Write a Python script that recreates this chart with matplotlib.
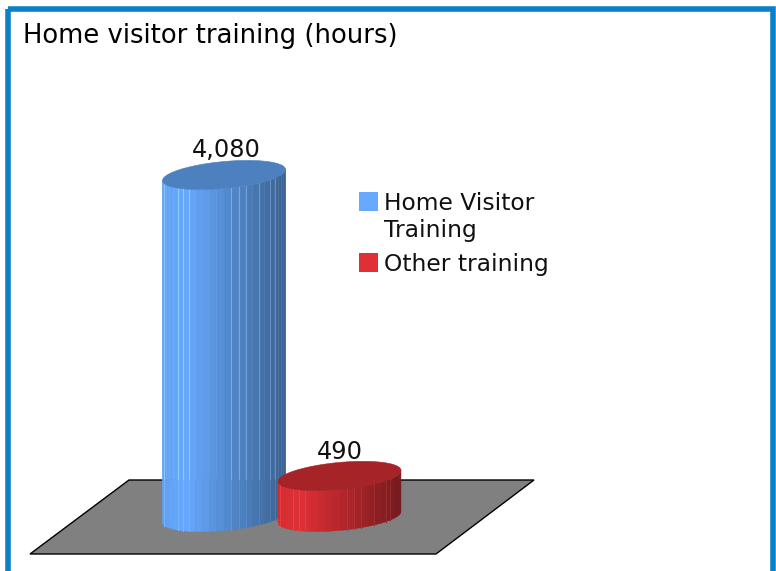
import matplotlib
matplotlib.use('Agg')
import matplotlib.pyplot as plt
import matplotlib.colors as mcolors
from matplotlib.patches import Polygon, Rectangle
import numpy as np

title = 'Home visitor training (hours)'
categories = ['Home Visitor\nTraining', 'Other training']
values = [4080, 490]
value_labels = ['4,080', '490']
side_light = ['#66a9ff', '#e02f35']
side_dark = ['#39618f', '#741a1d']
top_colors = ['#4d80bf', '#a62327']
border_color = '#0a80c8'
floor_color = '#808080'

# everything is placed in pixels of the picture
W, H = 776, 571
fig = plt.figure(figsize=(W / 100, H / 100), dpi=100)
ax = fig.add_axes([0, 0, 1, 1])
ax.set_xlim(0, W)
ax.set_ylim(H, 0)
ax.axis('off')

base_y = 517       # centre of the bottom ellipses
floor_back = 480
px_per_unit = 342 / 4080
centres = [224, 339.5]
label_dx = [2, 0]
label_dy = [18, 17]
rx = 61.5
ry = 13.5
tilt = 0.09
n_strips = 26
lit_edges = [2, 6, 7, 8, 14, 15, 16, 18, 20, 21]


def ellipse_y(cy, t):
    return cy + ry * np.sin(t) - tilt * rx * np.cos(t)


# grey floor
ax.add_patch(Polygon([(129, floor_back), (534, floor_back), (436, 554), (30, 554)],
                     closed=True, fc=floor_color, ec='black', lw=1, zorder=1))

for i in range(len(values)):
    cx = centres[i]
    top_y = base_y - values[i] * px_per_unit
    c1 = np.array(mcolors.to_rgb(side_light[i]))
    c2 = np.array(mcolors.to_rgb(side_dark[i]))
    z = 2 + i

    angles = np.linspace(np.pi, 0, n_strips + 1)
    for k in range(n_strips):
        t = np.linspace(angles[k], angles[k + 1], 6)
        xs = cx + rx * np.cos(t)
        y_bot = ellipse_y(base_y, t)
        y_top = ellipse_y(top_y, t)
        # colour follows the position across the cylinder
        pos = (xs.mean() - (cx - rx)) / (2 * rx)
        if pos < 0.18:
            col = c1 * (0.95 + 0.05 * pos / 0.18)
        else:
            col = c1 + (c2 - c1) * (pos - 0.18) / 0.82
        pts = list(zip(xs, y_top)) + list(zip(xs[::-1], y_bot[::-1]))
        ax.add_patch(Polygon(pts, closed=True, fc=col, ec=col, lw=0.3, zorder=z))
        if k in lit_edges:
            # the pale facet lines fade where they pass the floor
            if y_top[0] < floor_back:
                ax.plot([xs[0], xs[0]], [y_top[0], floor_back],
                        color=np.minimum(col + 0.15, 1), lw=0.8, zorder=z)
            ax.plot([xs[0], xs[0]], [max(y_top[0], floor_back), y_bot[0]],
                    color=np.minimum(col + 0.06, 1), lw=0.8, zorder=z)

    t = np.linspace(0, 2 * np.pi, 120)
    ax.add_patch(Polygon(list(zip(cx + rx * np.cos(t), ellipse_y(top_y, t))), closed=True,
                         fc=top_colors[i], ec=top_colors[i], lw=0.4, zorder=z))

    ax.text(cx + label_dx[i], top_y - label_dy[i], value_labels[i], fontsize=17.3,
            color='#111111', ha='center', va='baseline', zorder=6)

ax.text(23, 43, title, fontsize=18.6, color='black', ha='left', va='baseline')

# legend swatches and labels
legend_swatch_y = [192, 253]
legend_text_y = [210, 271]
for i in range(len(categories)):
    ax.add_patch(Rectangle((359, legend_swatch_y[i]), 19, 19, fc=side_light[i], ec='none', zorder=6))
    ax.text(384, legend_text_y[i], categories[i].split('\n')[0], fontsize=16.8,
            color='#111111', ha='left', va='baseline')
    if '\n' in categories[i]:
        ax.text(384, legend_text_y[i] + 27, categories[i].split('\n')[1], fontsize=16.8,
                color='#111111', ha='left', va='baseline')

# blue frame, runs off the bottom of the picture
ax.add_patch(Rectangle((8, 8.5), W - 11, H, fc='none', ec=border_color, lw=4,
                       zorder=10, clip_on=False))

fig.savefig('out.png', dpi=100)
